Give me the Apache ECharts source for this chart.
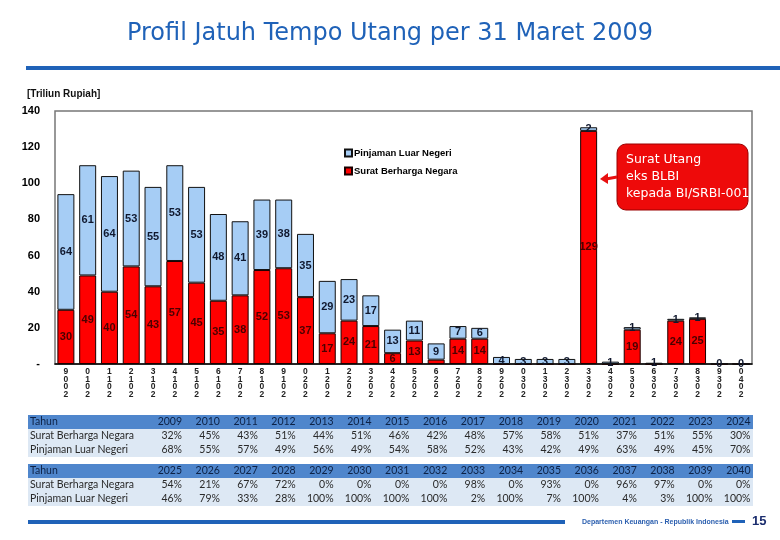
<!DOCTYPE html>
<html>
<head>
<meta charset="utf-8">
<script src="https://cdn.jsdelivr.net/npm/echarts@6/dist/echarts.min.js"></script>
<style>html,body{margin:0;padding:0;background:#fff}#c{width:780px;height:540px}</style>
</head>
<body>
<div id="c"></div>
<script>
// ---- data ----
var years = ['2009','2010','2011','2012','2013','2014','2015','2016','2017','2018','2019','2020','2021','2022','2023','2024',
             '2025','2026','2027','2028','2029','2030','2031','2032','2033','2034','2035','2036','2037','2038','2039','2040'];
var sbn = [30,49,40,54,43,57,45,35,38,52,53,37,17,24,21,6,13,2.4,14,14,0,0,0,0,129,0,19,0,24,25,0,0];
var pln = [64,61,64,53,55,53,53,48,41,39,38,35,29,23,17,13,11,9,7,6,3.9,2.8,2.8,2.8,2,1.3,1.4,0.7,1,0.8,0.3,0];
var yTicks = [0,20,40,60,80,100,120,140];

var tYears1 = ['2009','2010','2011','2012','2013','2014','2015','2016','2017','2018','2019','2020','2021','2022','2023','2024'];
var tSbn1 = ['32%','45%','43%','51%','44%','51%','46%','42%','48%','57%','58%','51%','37%','51%','55%','30%'];
var tPln1 = ['68%','55%','57%','49%','56%','49%','54%','58%','52%','43%','42%','49%','63%','49%','45%','70%'];
var tYears2 = ['2025','2026','2027','2028','2029','2030','2031','2032','2033','2034','2035','2036','2037','2038','2039','2040'];
var tSbn2 = ['54%','21%','67%','72%','0%','0%','0%','0%','98%','0%','93%','0%','96%','97%','0%','0%'];
var tPln2 = ['46%','79%','33%','28%','100%','100%','100%','100%','2%','100%','7%','100%','4%','3%','100%','100%'];

var chart = echarts.init(document.getElementById('c'), null, {renderer:'canvas'});

var graphics = [];
// title rule
graphics.push({type:'rect', shape:{x:26,y:66,width:760,height:4}, style:{fill:'#1f62b8'}});
graphics.push({type:'text', x:27, y:89, style:{text:'[Triliun Rupiah]', font:'bold 10px "Liberation Sans", Arial', fill:'#111'}});

// callout
graphics.push({type:'rect', shape:{x:617,y:144,width:131,height:66,r:9}, style:{fill:'#ee0a0a', stroke:'#9a0000', lineWidth:1}});
graphics.push({type:'text', x:626, y:151, style:{text:'Surat Utang\neks BLBI\nkepada BI/SRBI-001', font:'12.5px "DejaVu Sans"', fill:'#fff', lineHeight:17}});
graphics.push({type:'line', shape:{x1:617,y1:177,x2:606,y2:179}, style:{stroke:'#e81010', lineWidth:3}});
graphics.push({type:'polygon', shape:{points:[[600,179],[608,173],[608,184]]}, style:{fill:'#e81010'}});

// table
function addTable(top, yrs, a, b){
  var left = 28, right = 753;
  graphics.push({type:'rect', shape:{x:left,y:top,width:right-left,height:14}, style:{fill:'#4f86cc'}});
  graphics.push({type:'rect', shape:{x:left,y:top+14,width:right-left,height:28}, style:{fill:'#dde8f4'}});
  var rows = [['Tahun', yrs, '#0c2145'], ['Surat Berharga Negara', a, '#2a2a2a'], ['Pinjaman Luar Negeri', b, '#2a2a2a']];
  rows.forEach(function(r, ri){
    var cy = top + 7 + ri*14;
    graphics.push({type:'text', x:30, y:cy, style:{text:r[0], font:'10.5px Lato', fill:r[2], verticalAlign:'middle'}});
    r[1].forEach(function(t, i){
      graphics.push({type:'text', x:182 + 37.9*i, y:cy, style:{text:t, font:'10.5px Lato', fill:r[2], align:'right', verticalAlign:'middle'}});
    });
  });
}
addTable(415, tYears1, tSbn1, tPln1);
addTable(464, tYears2, tSbn2, tPln2);

// footer
graphics.push({type:'rect', shape:{x:28,y:520,width:537,height:4}, style:{fill:'#1f62b8'}});
graphics.push({type:'text', x:582, y:522, style:{text:'Departemen Keuangan - Republik Indonesia', font:'bold 7px "Liberation Sans", Arial', fill:'#2b5faf', verticalAlign:'middle'}});
graphics.push({type:'rect', shape:{x:732,y:520,width:13,height:3}, style:{fill:'#1f62b8'}});
graphics.push({type:'text', x:752, y:521, style:{text:'15', font:'bold 13px "Liberation Sans", Arial', fill:'#1b2d6e', verticalAlign:'middle'}});

var lblBase = {fontFamily:'"Liberation Sans", Arial', fontWeight:'bold', fontSize:11};

chart.setOption({
  animation:false,
  title:{text:'Profil Jatuh Tempo Utang per 31 Maret 2009', left:'center', top:17,
    textStyle:{fontFamily:'"DejaVu Sans"', fontWeight:'normal', fontSize:24, color:'#1f62b8'}},
  legend:{data:['Pinjaman Luar Negeri','Surat Berharga Negara'], orient:'vertical', left:339, top:143,
    itemWidth:7, itemHeight:7, itemGap:8, icon:'rect',
    textStyle:{fontFamily:'"Liberation Sans", Arial', fontWeight:'bold', fontSize:9.5, color:'#000', padding:[0,0,0,-3]}},
  grid:{left:55, right:28, top:111, bottom:176, show:true, borderColor:'#777', borderWidth:1.5, backgroundColor:'#fff'},
  xAxis:{type:'category', data:years,
    axisLine:{lineStyle:{color:'#000', width:1.5}}, axisTick:{show:false},
    axisLabel:{interval:0, margin:4, fontFamily:'"Liberation Sans", Arial', fontWeight:'bold', fontSize:8.5, lineHeight:7.5, color:'#222',
      formatter:function(v){return v.split('').reverse().join('\n');}}},
  yAxis:{type:'value', min:yTicks[0], max:yTicks[yTicks.length-1], interval:20,
    axisLine:{show:false}, axisTick:{show:false}, splitLine:{show:false},
    axisLabel:{margin:15, fontFamily:'"Liberation Sans", Arial', fontWeight:'bold', fontSize:11, color:'#000',
      formatter:function(v){return v===0?'-':String(v);}}},
  series:[
    {name:'Surat Berharga Negara', type:'bar', stack:'t', data:sbn, barWidth:'78%',
      itemStyle:{color:'#ff0000', borderColor:'#1a0000', borderWidth:1},
      label:Object.assign({show:true, position:'inside', color:'#4a0000',
        formatter:function(p){return p.value>=3?String(Math.round(p.value)):'';}}, lblBase)},
    {name:'Pinjaman Luar Negeri', type:'bar', stack:'t', data:pln, barWidth:'78%',
      itemStyle:{color:'#a6cdf5', borderColor:'#111', borderWidth:1},
      label:Object.assign({show:true, position:'inside', color:'#10182e',
        formatter:function(p){return String(Math.round(p.value));}}, lblBase)}
  ],
  graphic:graphics
});
</script>
</body>
</html>
